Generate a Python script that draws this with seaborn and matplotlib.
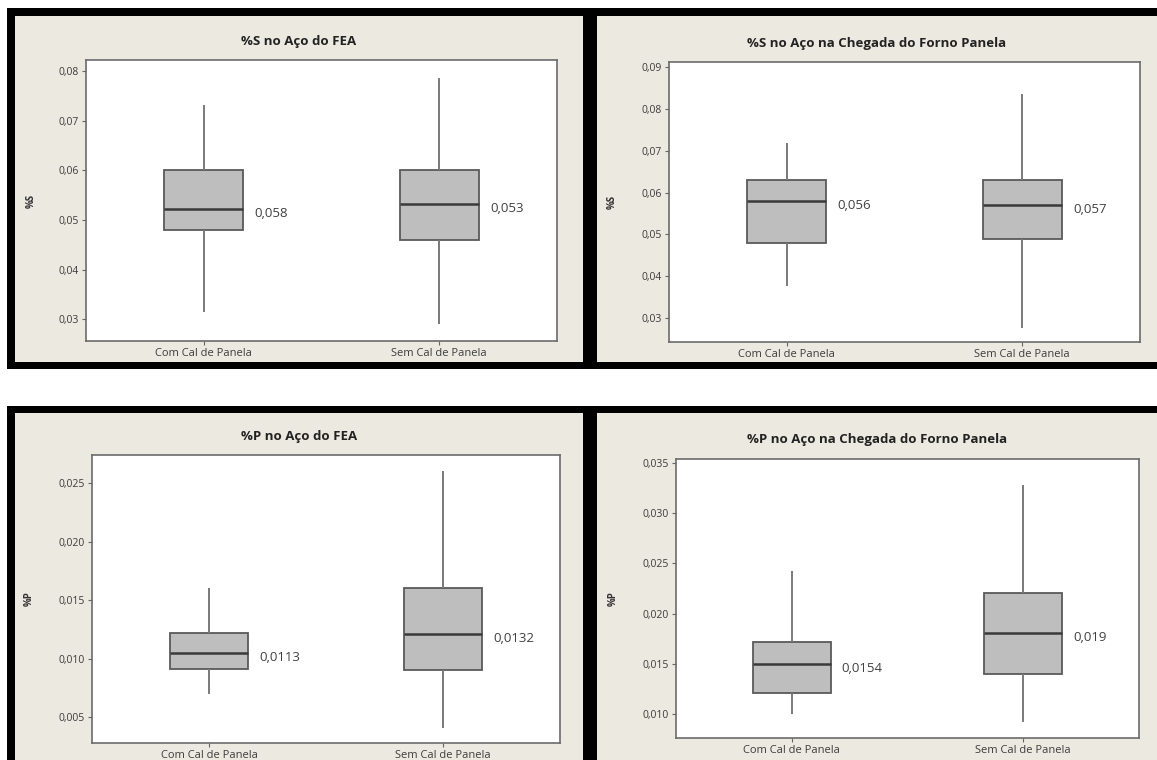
import numpy as np
import pandas as pd
import matplotlib
matplotlib.use("Agg")
import matplotlib.pyplot as plt
from matplotlib.patches import Rectangle
from matplotlib.ticker import MultipleLocator, FuncFormatter
import seaborn as sns

# ----------------------------------------------------------
# DATA (five-number summaries: min, Q1, median, Q3, max)
# ----------------------------------------------------------

categories = ["Com Cal de Panela", "Sem Cal de Panela"]

titles = [
    "%S no Aço do FEA",
    "%S no Aço na Chegada do Forno Panela",
    "%P no Aço do FEA",
    "%P no Aço na Chegada do Forno Panela",
]
ylabels = ["%S", "%S", "%P", "%P"]

s_fea_com = [0.0314, 0.048, 0.0522, 0.060, 0.0732]
s_fea_sem = [0.0290, 0.046, 0.0532, 0.060, 0.0786]
s_fea_labels = [0.058, 0.053]

s_fp_com = [0.0376, 0.048, 0.0581, 0.063, 0.0719]
s_fp_sem = [0.0276, 0.049, 0.0571, 0.063, 0.0836]
s_fp_labels = [0.056, 0.057]

p_fea_com = [0.0070, 0.0091, 0.0105, 0.0122, 0.0160]
p_fea_sem = [0.0041, 0.0090, 0.0121, 0.0160, 0.0260]
p_fea_labels = [0.0113, 0.0132]

p_fp_com = [0.0100, 0.0121, 0.0150, 0.0172, 0.0242]
p_fp_sem = [0.0092, 0.0140, 0.0181, 0.0220, 0.0328]
p_fp_labels = [0.0154, 0.019]

panel_data = [
    (s_fea_com, s_fea_sem, s_fea_labels),
    (s_fp_com, s_fp_sem, s_fp_labels),
    (p_fea_com, p_fea_sem, p_fea_labels),
    (p_fp_com, p_fp_sem, p_fp_labels),
]

# ----------------------------------------------------------
# LAYOUT (pixels)
# ----------------------------------------------------------

W, H = 1157, 760
BEIGE = "#ECE9E1"

# axes boxes: left, top, right, bottom
axes_px = [
    (86, 60, 557, 341),
    (669, 62, 1140, 342),
    (92, 455, 560, 743),
    (676, 459, 1139, 738),
]
ylims = [(0.0256, 0.0822), (0.0243, 0.0912), (0.0028, 0.0274), (0.0076, 0.0354)]
ysteps = [0.01, 0.01, 0.005, 0.005]
ydecimals = [2, 2, 3, 3]
ylabel_x = [37, 618, 35, 619]

# frames: outer black, inner beige (x0, y0, x1, y1)
frames_outer = [(7, 8, 590, 369), (590, 8, 1157, 369), (7, 406, 590, 760), (590, 406, 1157, 760)]
frames_inner = [(15, 16, 583, 362), (597, 16, 1157, 362), (15, 413, 583, 760), (597, 413, 1157, 760)]
title_y = [42, 43, 437, 440]

sns.set_style("ticks")
plt.rcParams["font.family"] = ["Open Sans", "DejaVu Sans"]

fig = plt.figure(figsize=(W / 100, H / 100), dpi=100, facecolor="white")


def px_rect(x0, y0, x1, y1):
    return (x0 / W, 1 - y1 / H, (x1 - x0) / W, (y1 - y0) / H)


for (o, i) in zip(frames_outer, frames_inner):
    x, y, w, h = px_rect(*o)
    fig.add_artist(Rectangle((x, y), w, h, transform=fig.transFigure,
                             facecolor="black", edgecolor="none", zorder=0))
    x, y, w, h = px_rect(*i)
    fig.add_artist(Rectangle((x, y), w, h, transform=fig.transFigure,
                             facecolor=BEIGE, edgecolor="none", zorder=0))

# ----------------------------------------------------------
# PANELS
# ----------------------------------------------------------

for k in range(4):
    com, sem, labels = panel_data[k]
    df = pd.DataFrame({
        "grupo": [categories[0]] * len(com) + [categories[1]] * len(sem),
        "valor": com + sem,
    })

    ax = fig.add_axes(px_rect(*axes_px[k]))
    ax.set_facecolor("white")

    sns.boxplot(
        data=df, x="grupo", y="valor", order=categories, ax=ax,
        color="#BEBEBE", saturation=1, width=0.335, whis=(0, 100),
        showcaps=False, fliersize=0, linecolor="#5a5a5a", linewidth=1.3,
        medianprops=dict(color="#3a3a3a", linewidth=1.8),
        whiskerprops=dict(color="#7a7a7a", linewidth=1.4),
    )

    medians = [com[2], sem[2]]
    for j, lab in enumerate(labels):
        ax.annotate(f"{lab:g}".replace(".", ","), xy=(j + 0.215, medians[j]),
                    xytext=(0, -3.5), textcoords="offset points",
                    ha="left", va="center", fontsize=9.5, color="#404040")

    ax.set_xlim(-0.5, 1.5)
    ax.set_ylim(*ylims[k])
    ax.yaxis.set_major_locator(MultipleLocator(ysteps[k]))
    d = ydecimals[k]
    ax.yaxis.set_major_formatter(FuncFormatter(lambda v, p, d=d: f"{v:.{d}f}".replace(".", ",")))

    ax.set_xlabel("")
    l, t, r, b = axes_px[k]
    ax.set_ylabel(ylabels[k], fontsize=7, fontweight="bold", color="#333333")
    ax.yaxis.set_label_coords((ylabel_x[k] - l) / (r - l), 0.5)

    for sp in ax.spines.values():
        sp.set_visible(True)
        sp.set_color("#6b6b6b")
        sp.set_linewidth(1.2)
    ax.tick_params(axis="both", direction="out", length=3, width=0.8,
                   color="#666666", labelcolor="#3c3c3c", labelsize=7.5, pad=2)
    ax.tick_params(axis="x", labelsize=8)

    fx0, _, fx1, _ = frames_inner[k]
    fig.text(((fx0 + fx1) / 2) / W, 1 - title_y[k] / H, titles[k],
             ha="center", va="center", fontsize=9.5, fontweight="bold", color="#222222")

fig.savefig("out.png", dpi=100, facecolor="white")
